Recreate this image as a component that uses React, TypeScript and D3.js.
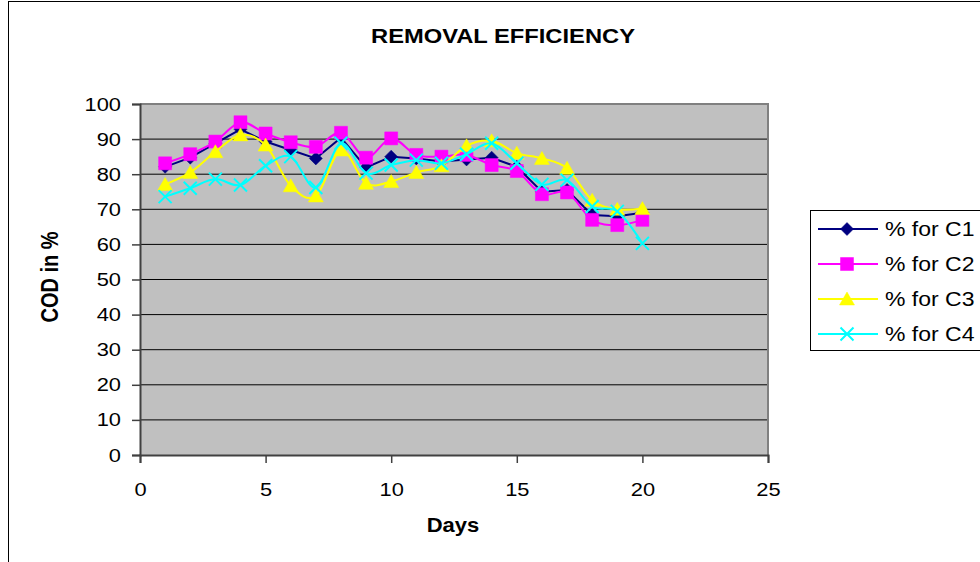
import { useEffect, useRef } from "react";
import * as d3 from "d3";

const days = [1, 2, 3, 4, 5, 6, 7, 8, 9, 10, 11, 12, 13, 14, 15, 16, 17, 18, 19, 20];

const c1 = [82.1, 84.7, 88.8, 92.8, 89.3, 86.9, 84.5, 90.4, 81.9, 85, 84.5, 83.6, 84.2, 84.7, 82.1, 75, 75.5, 68.4, 68, 69];
const c2 = [83.1, 85.7, 89.3, 94.8, 91.6, 89.1, 87.8, 91.8, 84.7, 90.2, 85.5, 85, 85.5, 82.6, 80.9, 74.3, 74.8, 67, 65.5, 67];
const c3 = [77.1, 80.5, 86.4, 91.2, 88.3, 76.7, 73.8, 86.9, 77.4, 77.9, 80.5, 82.4, 88.1, 89.5, 86, 84.5, 81.7, 72.6, 70, 70.2];
const c4 = [73.6, 76, 78.6, 76.9, 82.4, 85, 76.2, 88.8, 80.3, 82.6, 84, 83.1, 85.7, 88.8, 83.1, 77.1, 78.3, 70.8, 69.4, 60.3];

const seriesNames = ["% for C1", "% for C2", "% for C3", "% for C4"];
const xTicks = [0, 5, 10, 15, 20, 25];
const yTicks = [0, 10, 20, 30, 40, 50, 60, 70, 80, 90, 100];

const W = 980;
const H = 562;
const SX = 1.15; // text looks a bit wider than normal Arial

const App = () => {
  const ref = useRef<SVGSVGElement>(null);

  useEffect(() => {
    const svg = d3.select(ref.current);
    svg.selectAll("*").remove();

    const left = 140, right = 768, top = 104, bottom = 455;
    const x = d3.scaleLinear().domain([0, 25]).range([left, right]);
    const y = d3.scaleLinear().domain([0, 100]).range([bottom, top]);

    // chart frame (goes past the window on the right and bottom)
    svg.append("rect")
      .attr("x", 8.5).attr("y", 1.5).attr("width", 1000).attr("height", 600)
      .attr("fill", "#fff").attr("stroke", "#000").attr("stroke-width", 1);

    // plot area
    svg.append("rect")
      .attr("x", left).attr("y", top).attr("width", right - left).attr("height", bottom - top)
      .attr("fill", "#C0C0C0");

    // gridlines
    svg.append("g").selectAll("line")
      .data(yTicks.filter((d) => d > 0 && d < 100))
      .enter().append("line")
      .attr("x1", left).attr("x2", right)
      .attr("y1", (d) => y(d)).attr("y2", (d) => y(d))
      .attr("stroke", "#000").attr("stroke-width", 1);

    // top / right border of plot
    svg.append("path")
      .attr("d", `M${left},${top}H${right}V${bottom}`)
      .attr("fill", "none").attr("stroke", "#808080").attr("stroke-width", 2);

    const font = "Arial, 'Liberation Sans', sans-serif";

    // y axis
    const yAxis = d3.axisLeft(y).tickValues(yTicks).tickSize(8).tickFormat((d) => String(d));
    svg.append("g")
      .attr("transform", `translate(${left},0)`)
      .call(yAxis)
      .call((g) => g.select(".domain").attr("stroke", "#404040").attr("stroke-width", 2))
      .call((g) => g.selectAll(".tick line").attr("stroke", "#404040").attr("stroke-width", 1.5))
      .call((g) =>
        g.selectAll(".tick text")
          .attr("x", -19 / SX)
          .attr("transform", `scale(${SX},1)`)
          .attr("font-family", font).attr("font-size", 19).attr("fill", "#000")
      );

    // x axis
    const xAxis = d3.axisBottom(x).tickValues(xTicks).tickSize(8).tickFormat((d) => String(d));
    svg.append("g")
      .attr("transform", `translate(0,${bottom})`)
      .call(xAxis)
      .call((g) => g.select(".domain").attr("stroke", "#404040").attr("stroke-width", 2))
      .call((g) => g.selectAll(".tick line").attr("stroke", "#404040").attr("stroke-width", 1.5))
      .call((g) =>
        g.selectAll(".tick text")
          .attr("y", 41).attr("dy", "0")
          .attr("transform", `scale(${SX},1)`)
          .attr("font-family", font).attr("font-size", 19).attr("fill", "#000")
      );

    // titles
    svg.append("text")
      .attr("transform", `translate(503,43) scale(1.13,1)`)
      .attr("text-anchor", "middle")
      .attr("font-family", font).attr("font-size", 21).attr("font-weight", "bold")
      .text("REMOVAL EFFICIENCY");

    svg.append("text")
      .attr("transform", `translate(453,532) scale(1.1,1)`)
      .attr("text-anchor", "middle")
      .attr("font-family", font).attr("font-size", 20).attr("font-weight", "bold")
      .text("Days");

    svg.append("text")
      .attr("transform", `translate(58,277) scale(1.17,1) rotate(-90)`)
      .attr("text-anchor", "middle")
      .attr("font-family", font).attr("font-size", 20).attr("font-weight", "bold")
      .text("COD in %");

    // series
    const values = [c1, c2, c3, c4];
    const colors = ["#000080", "#FF00FF", "#FFFF00", "#00FFFF"];
    const markers = [
      { d: "M0,-6.5L6.5,0L0,6.5L-6.5,0Z", fill: true },
      { d: "M-6.5,-6.5H6.5V6.5H-6.5Z", fill: true },
      { d: "M0,-7L7.5,6L-7.5,6Z", fill: true },
      { d: "M-6.5,-6.5L6.5,6.5M-6.5,6.5L6.5,-6.5", fill: false },
    ];
    const straight = d3.line<number>().x((_, i) => x(days[i])).y((d) => y(d));
    const smooth = d3.line<number>().x((_, i) => x(days[i])).y((d) => y(d)).curve(d3.curveCatmullRom.alpha(0));

    values.forEach((vals, k) => {
      const g = svg.append("g");
      g.append("path")
        .datum(vals)
        .attr("fill", "none")
        .attr("stroke", colors[k])
        .attr("stroke-width", 2)
        .attr("d", k === 0 ? straight : smooth);
      g.selectAll("path.m")
        .data(vals)
        .enter().append("path")
        .attr("class", "m")
        .attr("transform", (d, i) => `translate(${x(days[i])},${y(d)})`)
        .attr("d", markers[k].d)
        .attr("fill", markers[k].fill ? colors[k] : "none")
        .attr("stroke", colors[k])
        .attr("stroke-width", markers[k].fill ? 0.5 : 2);
    });

    // legend
    const lg = svg.append("g");
    lg.append("rect")
      .attr("x", 810.5).attr("y", 210.5).attr("width", 200).attr("height", 140)
      .attr("fill", "#fff").attr("stroke", "#000").attr("stroke-width", 1);
    seriesNames.forEach((name, k) => {
      const ly = 229 + k * 35;
      lg.append("line")
        .attr("x1", 818).attr("x2", 878).attr("y1", ly).attr("y2", ly)
        .attr("stroke", colors[k]).attr("stroke-width", 2);
      lg.append("path")
        .attr("transform", `translate(847,${ly})`)
        .attr("d", markers[k].d)
        .attr("fill", markers[k].fill ? colors[k] : "none")
        .attr("stroke", colors[k])
        .attr("stroke-width", markers[k].fill ? 0.5 : 2);
      lg.append("text")
        .attr("transform", `translate(885,${ly + 7}) scale(${SX},1)`)
        .attr("font-family", font).attr("font-size", 20)
        .text(name);
    });
  }, []);

  return (
    <svg
      ref={ref}
      width={W}
      height={H}
      style={{ position: "absolute", left: 0, top: 0, display: "block", background: "#fff" }}
    />
  );
};

export default App;
